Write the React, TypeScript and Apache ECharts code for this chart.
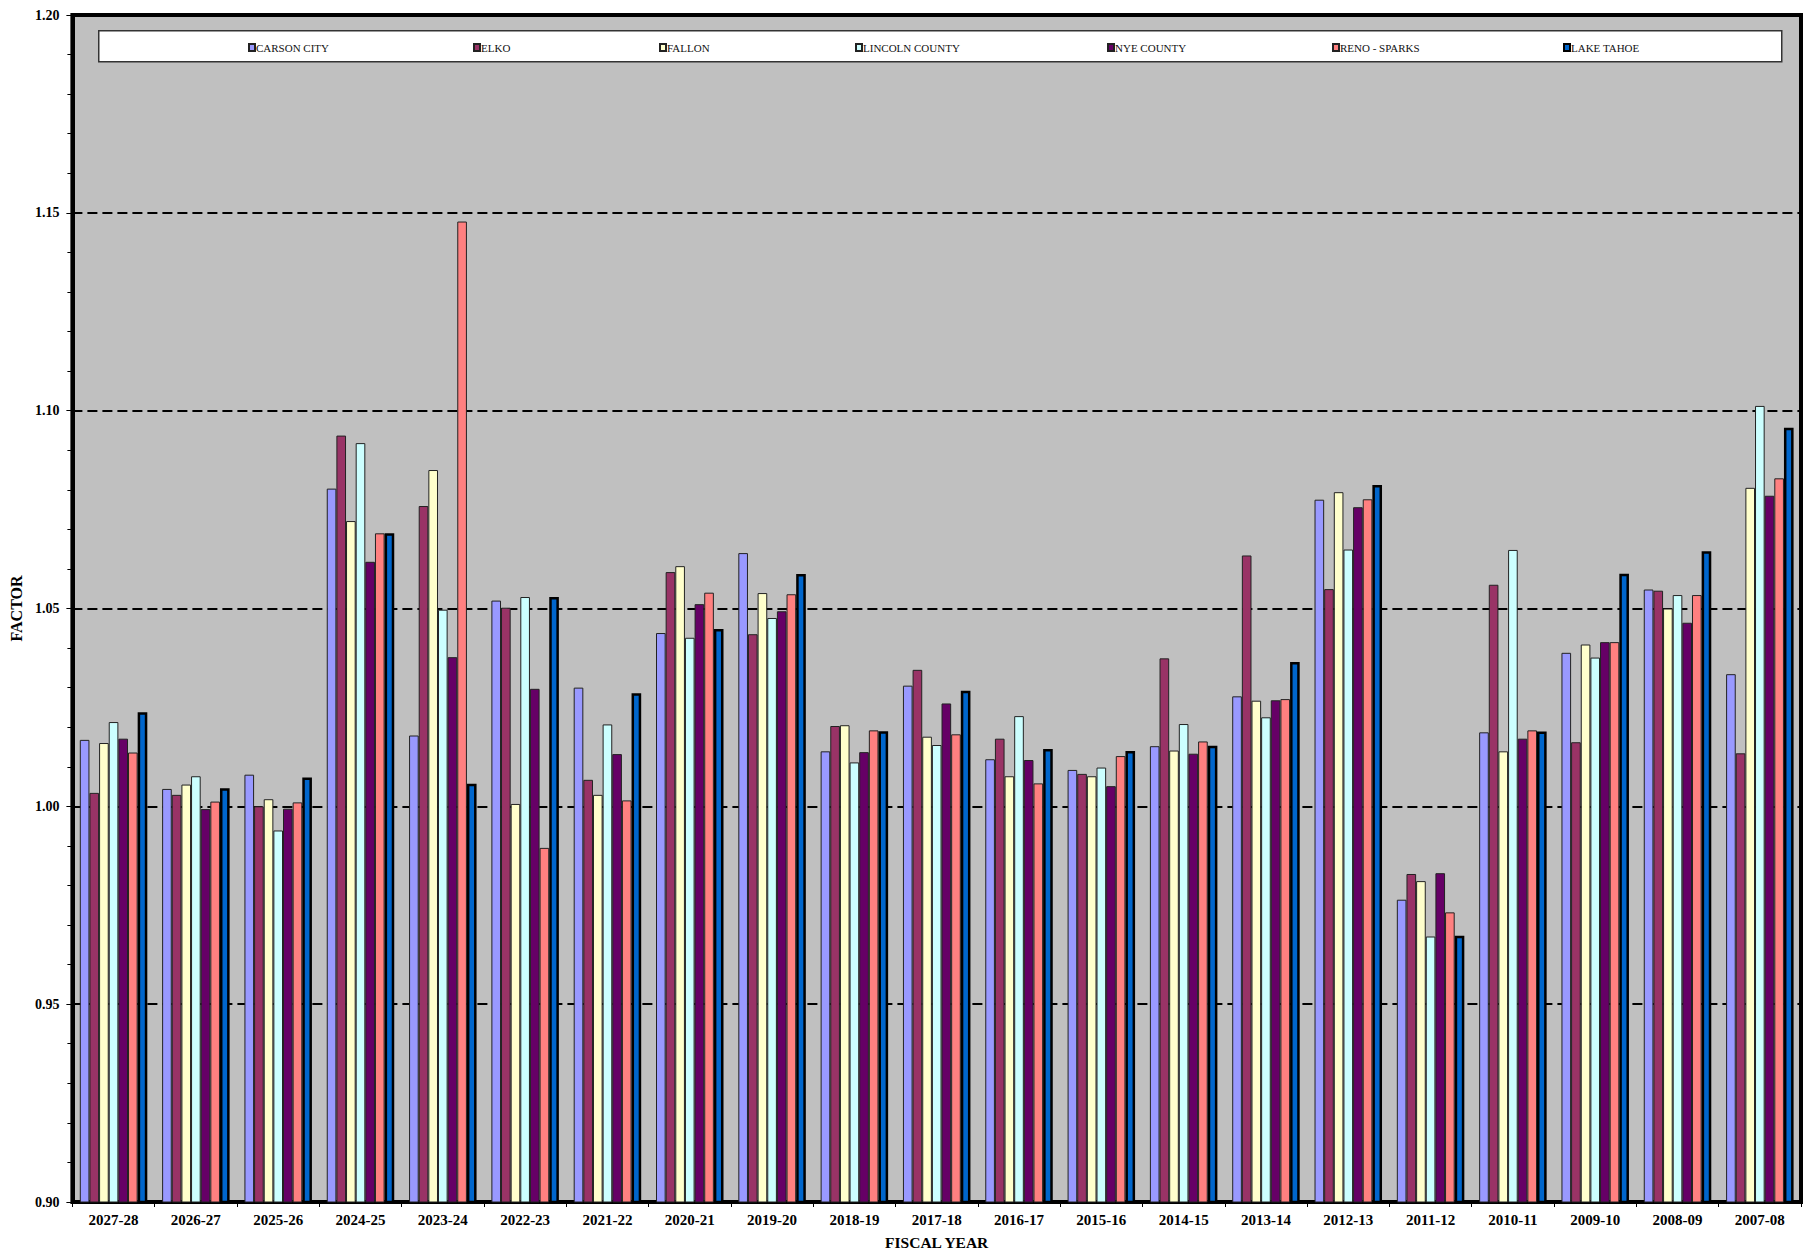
import React, { useEffect, useRef } from "react";
import * as echarts from "echarts";

const categories = [
  "2027-28", "2026-27", "2025-26", "2024-25", "2023-24", "2022-23", "2021-22",
  "2020-21", "2019-20", "2018-19", "2017-18", "2016-17", "2015-16", "2014-15",
  "2013-14", "2012-13", "2011-12", "2010-11", "2009-10", "2008-09", "2007-08",
];

const seriesNames = [
  "CARSON CITY", "ELKO", "FALLON", "LINCOLN COUNTY", "NYE COUNTY", "RENO - SPARKS", "LAKE TAHOE",
];

const carsonCity = [1.0168, 1.0044, 1.008, 1.0803, 1.0179, 1.052, 1.03, 1.0438, 1.064, 1.0139, 1.0305, 1.0119, 1.0092, 1.0152, 1.0278, 1.0775, 0.9764, 1.0187, 1.0388, 1.0548, 1.0334];
const elko = [1.0034, 1.0029, 1.0, 1.0937, 1.0759, 1.0502, 1.0067, 1.0592, 1.0435, 1.0203, 1.0345, 1.0171, 1.0082, 1.0374, 1.0634, 1.0549, 0.9829, 1.056, 1.0162, 1.0545, 1.0134];
const fallon = [1.016, 1.0055, 1.0018, 1.0721, 1.085, 1.0006, 1.0029, 1.0607, 1.0539, 1.0205, 1.0176, 1.0076, 1.0076, 1.0141, 1.0267, 1.0794, 0.9811, 1.0139, 1.0409, 1.05, 1.0805];
const lincolnCounty = [1.0213, 1.0076, 0.9939, 1.0918, 1.0497, 1.0529, 1.0207, 1.0426, 1.0476, 1.0111, 1.0155, 1.0228, 1.0098, 1.0208, 1.0225, 1.0649, 0.9671, 1.0648, 1.0376, 1.0534, 1.1012];
const nyeCounty = [1.0171, 0.9993, 0.9994, 1.0618, 1.0377, 1.0297, 1.0132, 1.0511, 1.0493, 1.0137, 1.026, 1.0117, 1.0051, 1.0133, 1.0268, 1.0756, 0.9831, 1.0171, 1.0415, 1.0464, 1.0785];
const renoSparks = [1.0136, 1.0012, 1.001, 1.069, 1.1478, 0.9895, 1.0015, 1.054, 1.0536, 1.0192, 1.0182, 1.0058, 1.0127, 1.0164, 1.0271, 1.0776, 0.9732, 1.0192, 1.0415, 1.0534, 1.0829];
const lakeTahoe = [1.0238, 1.0046, 1.0073, 1.069, 1.0057, 1.0529, 1.0286, 1.0448, 1.0587, 1.019, 1.0292, 1.0145, 1.014, 1.0153, 1.0365, 1.0812, 0.9673, 1.0189, 1.0588, 1.0645, 1.0957];

const seriesValues = [carsonCity, elko, fallon, lincolnCounty, nyeCounty, renoSparks, lakeTahoe];
const colors = ["#9999FF", "#993366", "#FFFFCC", "#CCFFFF", "#660066", "#FF8080", "#0066CC"];
const legendLeft = [248, 473, 659, 855, 1107, 1332, 1563];

const FONT = "'Liberation Serif', 'Times New Roman', serif";

export default function App() {
  const ref = useRef<HTMLDivElement>(null);
  useEffect(() => {
    if (!ref.current) return;
    const chart = echarts.init(ref.current, undefined, { renderer: "svg" });
    const series = seriesNames.map((name, i) => ({
      name,
      type: "bar",
      data: seriesValues[i],
      barGap: "0%",
      barCategoryGap: "18%",
      itemStyle: {
        color: colors[i],
        borderColor: i === 6 ? "#000" : "#222",
        borderWidth: i === 6 ? 2.5 : 1,
      },
    }));
    const legends = seriesNames.map((name, i) => ({
      data: [name],
      left: legendLeft[i],
      top: 42,
      padding: 0,
      itemWidth: 6,
      itemHeight: 7,
      itemGap: 2,
      icon: "rect",
      z: 10,
      textStyle: { fontFamily: FONT, fontSize: 11, color: "#111", padding: [0, 0, 0, -4] },
    }));
    chart.setOption({
      animation: false,
      backgroundColor: "#fff",
      grid: {
        left: 67,
        right: 15,
        top: 15,
        bottom: 51,
        show: true,
        backgroundColor: "#C0C0C0",
        borderColor: "#000",
        borderWidth: 4,
      },
      graphic: [
        {
          type: "rect",
          left: 98,
          top: 30,
          z: 1,
          shape: { width: 1683, height: 31 },
          style: { fill: "#fff", stroke: "#333", lineWidth: 1.5 },
        },
      ],
      legend: legends,
      xAxis: {
        type: "category",
        data: categories,
        name: "FISCAL YEAR",
        nameLocation: "middle",
        nameGap: 32,
        nameTextStyle: { fontFamily: FONT, fontSize: 15.5, fontWeight: "bold", color: "#000" },
        axisLine: { lineStyle: { color: "#000", width: 3 } },
        axisTick: { show: true, length: 5, lineStyle: { color: "#000", width: 1 } },
        axisLabel: { fontFamily: FONT, fontSize: 15, fontWeight: "bold", color: "#000", margin: 10 },
      },
      yAxis: {
        type: "value",
        min: 0.9,
        max: 1.2,
        interval: 0.05,
        name: "FACTOR",
        nameLocation: "middle",
        nameGap: 42,
        nameTextStyle: { fontFamily: FONT, fontSize: 16, fontWeight: "bold", color: "#000" },
        axisLine: { show: true, lineStyle: { color: "#000", width: 4 } },
        axisTick: { show: true, length: 6, lineStyle: { color: "#000", width: 1 } },
        minorTick: { show: true, splitNumber: 5, length: 5, lineStyle: { color: "#000", width: 1 } },
        axisLabel: {
          fontFamily: FONT,
          fontSize: 14,
          fontWeight: "bold",
          color: "#000",
          margin: 13,
          formatter: (v: number) => v.toFixed(2),
        },
        splitLine: { show: true, lineStyle: { color: "#000", width: 2, type: [10, 5] } },
      },
      series,
    });
    return () => chart.dispose();
  }, []);
  return (
    <div
      ref={ref}
      style={{ position: "fixed", left: 0, top: 0, width: 1816, height: 1255 }}
    />
  );
}
